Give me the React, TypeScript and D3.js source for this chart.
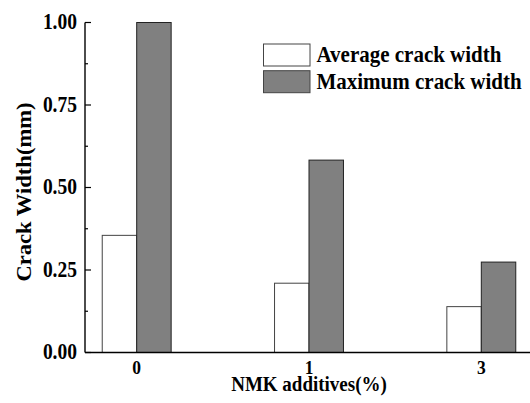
import React from "react";
import * as d3 from "d3";

const categories = ["0", "1", "3"];
const averageWidth = [0.355, 0.21, 0.139];
const maximumWidth = [1.0, 0.583, 0.274];
const yTicks = [0, 0.25, 0.5, 0.75, 1.0];
const yMinorTicks = [0.125, 0.375, 0.625, 0.875];
const seriesNames = ["Average crack width", "Maximum crack width"];
const seriesColors = ["#ffffff", "#808080"];

const W = 530;
const H = 403;
const left = 85;
const right = 533;
const top = 22.5;
const bottom = 352.5;
const font = "'Liberation Serif', 'Times New Roman', serif";
const stretch = 1.13;

function T({ x, y, size, anchor = "start", children, rotate = false }: any) {
  const tr = rotate
    ? `translate(${x},${y}) rotate(-90) scale(${stretch},1)`
    : `translate(${x},${y}) scale(1,${stretch})`;
  return (
    <text
      transform={tr}
      textAnchor={anchor}
      fontFamily={font}
      fontWeight="bold"
      fontSize={size}
      fill="#000"
    >
      {children}
    </text>
  );
}

export default function App() {
  const x = d3.scalePoint<string>().domain(categories).range([left, right]).padding(0.3);
  const y = d3.scaleLinear().domain([0, 1]).range([bottom, top]);
  const step = x.step();
  const bw = step * 0.2;
  const series = [averageWidth, maximumWidth];

  return (
    <svg width={W} height={H} style={{ position: "absolute", left: 0, top: 0, background: "#fff" }}>
      {categories.map((c, i) =>
        series.map((vals, s) => {
          const cx = x(c) as number;
          const x0 = s === 0 ? cx - bw : cx;
          return (
            <rect
              key={c + s}
              x={x0}
              y={y(vals[i])}
              width={bw}
              height={y(0) - y(vals[i])}
              fill={seriesColors[s]}
              stroke={s === 0 ? "#444" : "#222"}
              strokeWidth={1}
            />
          );
        })
      )}
      <line x1={left} x2={left} y1={top} y2={bottom} stroke="#000" strokeWidth={1.4} />
      <line x1={left} x2={W} y1={bottom} y2={bottom} stroke="#000" strokeWidth={1.4} />
      {yTicks.map((t) => (
        <g key={t}>
          <line x1={left} x2={left + 6} y1={y(t)} y2={y(t)} stroke="#000" strokeWidth={1.2} />
          <T x={left - 8} y={y(t) + 6.5} size={19.5} anchor="end">
            {t.toFixed(2)}
          </T>
        </g>
      ))}
      {yMinorTicks.map((t) => (
        <line key={t} x1={left} x2={left + 3} y1={y(t)} y2={y(t)} stroke="#000" strokeWidth={1.2} />
      ))}
      {categories.map((c) => (
        <T key={c} x={x(c) as number} y={373.5} size={17.5} anchor="middle">
          {c}
        </T>
      ))}
      <T x={x(categories[1]) as number} y={390.5} size={19} anchor="middle">
        NMK additives(%)
      </T>
      <T x={31} y={192} size={20} anchor="middle" rotate>
        Crack Width(mm)
      </T>
      {seriesNames.map((n, i) => (
        <g key={n}>
          <rect
            x={263.5}
            y={44 + i * 26.7}
            width={46.5}
            height={22}
            fill={seriesColors[i]}
            stroke="#444"
            strokeWidth={1}
          />
          <T x={316.5} y={44 + i * 26.7 + 18} size={21}>
            {n}
          </T>
        </g>
      ))}
    </svg>
  );
}
